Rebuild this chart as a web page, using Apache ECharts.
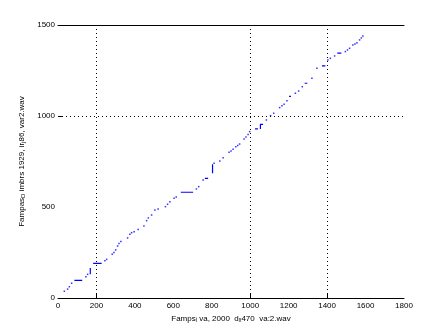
<!DOCTYPE html>
<html><head><meta charset="utf-8">
<script src="https://cdn.jsdelivr.net/npm/echarts@6/dist/echarts.min.js"></script>
<style>html,body{margin:0;padding:0;background:#fff}#c{width:447px;height:335px}</style>
</head><body><div id="c"></div>
<script>
var xTicks = [0,200,400,600,800,1000,1200,1400,1600,1800];
var yTicks = [0,500,1000,1500];
var gridX = [200,1000,1400];
var gridY = [1000];
var dots = [[33,37],[50,49],[59,62],[71,81],
[145,117],[154,130],
[244,205],[253,212],[282,241],[291,250],[300,264],[310,286],[317,300],[327,310],
[362,330],[374,350],[383,359],[396,364],[417,377],
[447,396],[461,425],[470,440],[487,456],[504,484],[521,489],
[559,502],[570,515],[582,529],[604,548],[615,555],
[720,599],[732,612],[755,648],
[812,740],[842,753],[859,771],[890,801],[900,808],[911,817],[925,831],[935,838],[945,846],[968,874],[978,885],[989,899],[997,914],
[1084,978],[1106,1002],[1122,1015],[1153,1046],[1165,1056],[1176,1064],[1191,1084],
[1235,1125],[1252,1137],[1271,1161],
[1321,1207],[1347,1262],
[1404,1308],[1417,1317],[1439,1330],
[1495,1354],[1506,1363],[1517,1372],[1534,1390],[1545,1396],[1555,1403],[1569,1418],[1578,1429],[1586,1440]];
var segs = [[[85,97],[126,97]],[[168,130],[168,165]],[[183,190],[227,190]],[[639,581],[703,581]],
[[764,657],[781,657]],[[804,685],[804,735]],[[1025,929],[1040,929]],[[1053,929],[1053,954],[1067,954]],
[[1202,1108],[1212,1108]],[[1283,1180],[1297,1180]],[[1373,1275],[1391,1275]],[[1453,1345],[1474,1345]]];
var xName = 'Fampsᵢ va, 2000  dₓ470  va:2.wav';
var yName = '{n|Fampas}{s|D}{n| imbrs 1929, ir}{s|j}{n|86, var2.wav}';

var font = 'Liberation Sans';
var fmt = function(v){ return String(v); };
var chart = echarts.init(document.getElementById('c'));
var series = [{
  type:'scatter', data:dots, symbol:'rect', symbolSize:1.5, itemStyle:{color:'#0000ff'}, silent:true, z:3,
  markLine:{silent:true, symbol:'none', label:{show:false},
    lineStyle:{color:'#000', width:1, type:[1,3]},
    data: gridX.map(function(v){return {xAxis:v};}).concat(gridY.map(function(v){return {yAxis:v};}))}
}];
segs.forEach(function(s){
  series.push({type:'line', data:s, symbol:'none', silent:true, z:3, lineStyle:{color:'#0000ff', width:1.2}});
});
chart.setOption({
  animation:false,
  grid:{left:58,right:43,top:25,bottom:37,outerBoundsMode:'none'},
  xAxis:[{type:'value',min:0,max:1800,interval:200,
    name:xName,nameLocation:'middle',nameGap:15,
    nameTextStyle:{fontSize:8,fontFamily:font,color:'#000'},
    axisLine:{show:true,onZero:false,lineStyle:{color:'#000',width:1}},
    axisTick:{show:true,inside:true,length:4,customValues:gridX,lineStyle:{color:'#000'}},
    axisLabel:{fontSize:8,fontFamily:font,color:'#000',margin:4,customValues:xTicks,formatter:fmt},
    splitLine:{show:false}},
   {type:'value',position:'top',min:0,max:1800,
    axisLine:{show:true,onZero:false,lineStyle:{color:'#000',width:1}},
    axisTick:{show:false},axisLabel:{show:false},splitLine:{show:false}}],
  yAxis:{type:'value',min:0,max:1500,interval:500,
    name:yName,nameLocation:'middle',nameGap:26,
    nameTextStyle:{fontFamily:font,color:'#000',rich:{
      n:{fontSize:8,fontFamily:font,color:'#000'},
      s:{fontSize:6,fontFamily:font,color:'#000',padding:[4,0,0,0]}}},
    axisLine:{show:false},
    axisTick:{show:true,inside:true,length:4,customValues:[1000],lineStyle:{color:'#000'}},
    axisLabel:{fontSize:8,fontFamily:font,color:'#000',margin:3,customValues:yTicks,formatter:fmt},
    splitLine:{show:false}},
  series:series
});
</script></body></html>
